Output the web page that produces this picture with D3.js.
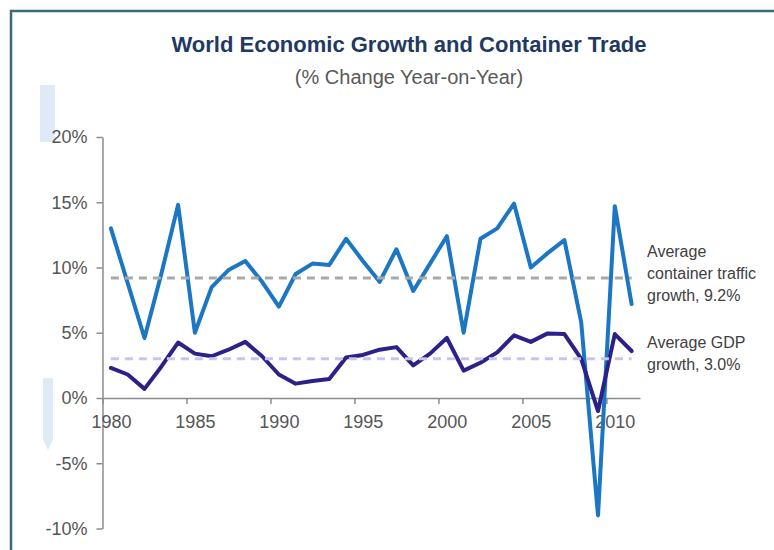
<!DOCTYPE html>
<html>
<head>
<meta charset="utf-8">
<script src="https://cdn.jsdelivr.net/npm/d3@7"></script>
<style>
  html, body { margin: 0; padding: 0; background: #ffffff; }
  svg { display: block; font-family: "Liberation Sans", Arial, sans-serif; }
</style>
</head>
<body>
<svg id="chart" width="774" height="550"></svg>
<script>
// ---- Data ----
const years = d3.range(1980, 2012);
const containerGrowth = [13.0, 8.8, 4.6, 9.5, 14.8, 5.0, 8.5, 9.8, 10.5, 8.9, 7.0, 9.5, 10.3, 10.2, 12.2, 10.5,
                         8.9, 11.4, 8.2, 10.3, 12.4, 5.0, 12.2, 13.0, 14.9, 10.0, 11.1, 12.1, 5.8, -9.0, 14.7, 7.2];
const gdpGrowth = [2.3, 1.8, 0.7, 2.4, 4.25, 3.4, 3.2, 3.7, 4.3, 3.2, 1.8, 1.1, 1.3, 1.45, 3.1, 3.3,
                   3.7, 3.9, 2.5, 3.4, 4.6, 2.1, 2.7, 3.5, 4.8, 4.3, 4.95, 4.9, 3.0, -1.0, 4.9, 3.6];
const avgContainer = 9.2;
const avgGdp = 3.0;
const yTicks = [-10, -5, 0, 5, 10, 15, 20];
const xLabelYears = [1980, 1985, 1990, 1995, 2000, 2005, 2010];
const titleText = "World Economic Growth and Container Trade";
const subtitleText = "(% Change Year-on-Year)";
const containerNote = ["Average", "container traffic", "growth, 9.2%"];
const gdpNote = ["Average GDP", "growth, 3.0%"];

// ---- Layout ----
const svg = d3.select("#chart");
const plotL = 102.5, plotR = 640, plotT = 137, plotB = 528.5;
const x = d3.scaleLinear().domain([0, years.length]).range([plotL, plotR]);
const slot = x(1) - x(0);
const y = d3.scaleLinear().domain([-10, 20]).range([plotB, plotT]);

// frame
svg.append("rect").attr("x", 11).attr("y", 11).attr("width", 800).attr("height", 600)
  .attr("fill", "none").attr("stroke", "#3b687b").attr("stroke-width", 2.5);

// decorative pale markers on the left
svg.append("rect").attr("x", 40).attr("y", 85).attr("width", 15).attr("height", 57).attr("fill", "#dfeaf6");
svg.append("path").attr("d", "M43,378 H53 V440 L48,450 L43,440 Z").attr("fill", "#dfeaf6");

// titles
svg.append("text").attr("x", 409).attr("y", 52).attr("text-anchor", "middle")
  .attr("font-size", 22).attr("font-weight", "bold").attr("fill", "#1f3a62").text(titleText);
svg.append("text").attr("x", 409).attr("y", 84).attr("text-anchor", "middle")
  .attr("font-size", 20).attr("fill", "#595959").text(subtitleText);

// y axis
const yAxis = svg.append("g").attr("transform", `translate(${plotL},0)`)
  .call(d3.axisLeft(y).tickValues(yTicks).tickSize(6).tickSizeOuter(0).tickPadding(9).tickFormat(d => d + "%"));
yAxis.select(".domain").attr("stroke", "#8c8c8c").attr("stroke-width", 1.5);
yAxis.selectAll(".tick line").attr("stroke", "#8c8c8c").attr("stroke-width", 1.5);
yAxis.selectAll(".tick text").attr("font-size", 18).attr("fill", "#555555")
  .attr("font-family", "Liberation Sans, Arial, sans-serif");

// x axis (ticks between categories, labels centred on categories)
const xTickIdx = xLabelYears.map(yr => yr - years[0]);
const xAxis = svg.append("g").attr("transform", `translate(0,${y(0)})`)
  .call(d3.axisBottom(x).tickValues(xTickIdx).tickSize(6).tickSizeOuter(0).tickPadding(11)
    .tickFormat(i => String(years[0] + i)));
xAxis.select(".domain").attr("stroke", "#8c8c8c").attr("stroke-width", 1.5);
xAxis.selectAll(".tick line").attr("stroke", "#8c8c8c").attr("stroke-width", 1.5);
xAxis.selectAll(".tick text").attr("x", slot / 2).attr("font-size", 18).attr("fill", "#555555")
  .attr("font-family", "Liberation Sans, Arial, sans-serif");

// series lines
const line = d3.line().x((d, i) => x(i + 0.5)).y(d => y(d));
svg.append("path").datum(containerGrowth).attr("d", line)
  .attr("fill", "none").attr("stroke", "#1b76c4").attr("stroke-width", 4)
  .attr("stroke-linejoin", "round").attr("stroke-linecap", "round");
svg.append("path").datum(gdpGrowth).attr("d", line)
  .attr("fill", "none").attr("stroke", "#2c2188").attr("stroke-width", 4)
  .attr("stroke-linejoin", "round").attr("stroke-linecap", "round");

// average dashed lines
const xa = x(0.5), xb = x(years.length - 0.5);
svg.append("line").attr("x1", xa).attr("x2", xb).attr("y1", y(avgContainer)).attr("y2", y(avgContainer))
  .attr("stroke", "#a9a9a9").attr("stroke-width", 3).attr("stroke-dasharray", "8,6");
svg.append("line").attr("x1", xa).attr("x2", xb).attr("y1", y(avgGdp)).attr("y2", y(avgGdp))
  .attr("stroke", "#c6c6ec").attr("stroke-width", 3).attr("stroke-dasharray", "8,6");

// annotations
const noteX = 647;
svg.append("text").attr("font-size", 16).attr("fill", "#404040")
  .selectAll("tspan").data(containerNote).join("tspan")
  .attr("x", noteX).attr("y", (d, i) => 257 + i * 22).text(d => d);
svg.append("text").attr("font-size", 16).attr("fill", "#404040")
  .selectAll("tspan").data(gdpNote).join("tspan")
  .attr("x", noteX).attr("y", (d, i) => 348 + i * 22).text(d => d);
</script>
</body>
</html>
